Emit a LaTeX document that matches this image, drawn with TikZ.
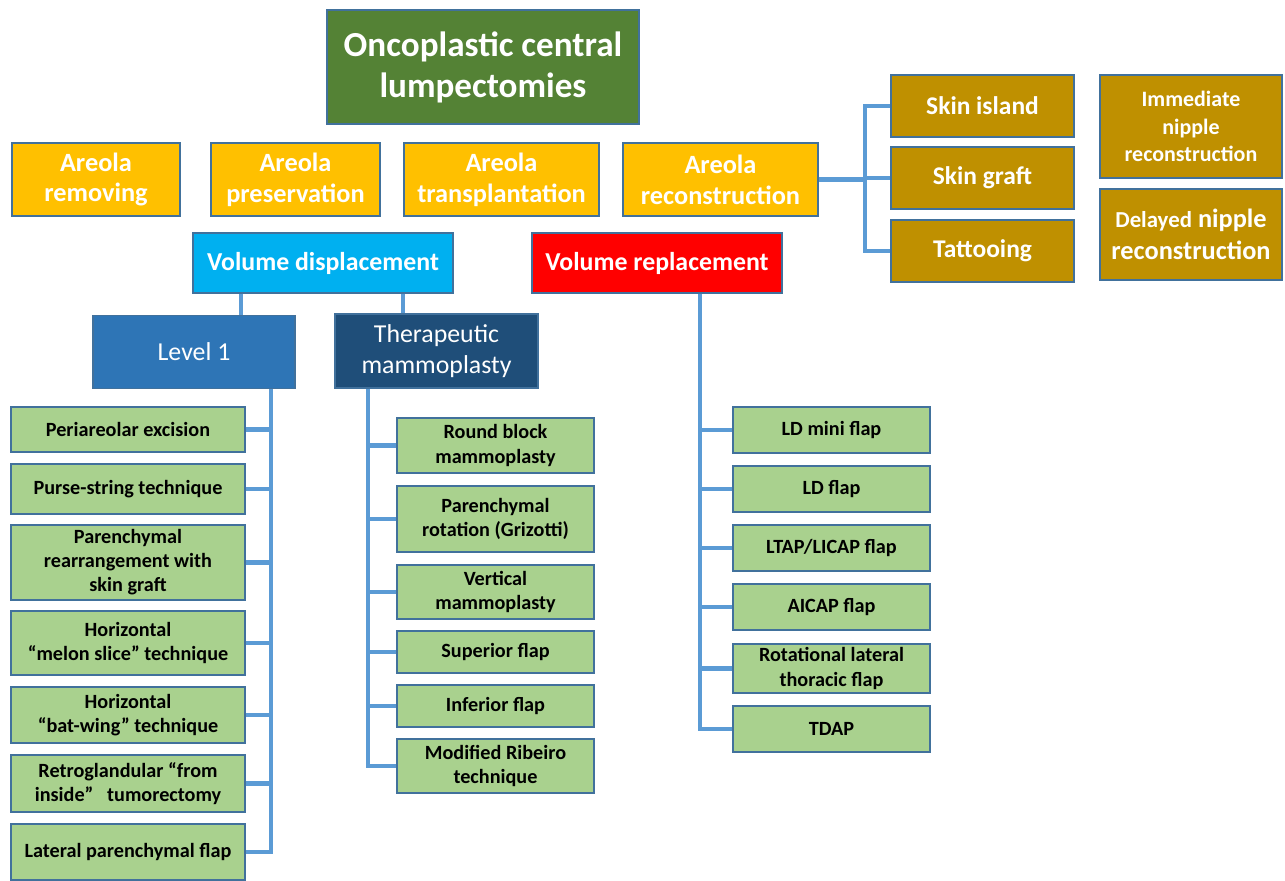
\documentclass[tikz,border=0pt]{standalone}
\usepackage{fontspec}
\setmainfont{Carlito}
\definecolor{titg}{RGB}{84,130,53}
\definecolor{areo}{RGB}{255,192,0}
\definecolor{vdis}{RGB}{0,176,240}
\definecolor{vrep}{RGB}{255,0,0}
\definecolor{lvl}{RGB}{46,117,182}
\definecolor{thm}{RGB}{31,78,121}
\definecolor{leaf}{RGB}{169,209,142}
\definecolor{brwn}{RGB}{191,144,0}
\definecolor{bord}{RGB}{65,113,156}
\definecolor{conc}{RGB}{91,155,213}

\begin{document}
\begin{tikzpicture}[x=0.02cm, y=-0.02cm,
  caja/.style={draw=bord, line width=0.6pt, inner sep=1pt, align=center, text=white},
  sz/.style 2 args={minimum width=#1*0.02cm, minimum height=#2*0.02cm},
  hoja/.style={caja, fill=leaf, text=black, font=\bfseries\fontsize{11.5}{13.7}\selectfont},
  areola/.style={caja, fill=areo, sz={168}{73}, font=\bfseries\fontsize{15}{17.6}\selectfont},
  piel/.style={caja, fill=brwn, sz={183}{62}, font=\bfseries\fontsize{14.5}{17}\selectfont},
  pezon/.style={caja, fill=brwn, sz={182}{91}, font=\bfseries\fontsize{12.5}{15.5}\selectfont},
  volumen/.style={caja, sz={250}{60}, font=\bfseries\fontsize{14.7}{16}\selectfont},
  nivel/.style={caja, sz={202}{73}, font=\fontsize{14.7}{17.5}\selectfont},
  conn/.style={draw=conc, line width=2.3pt}]
  \useasboundingbox (0,0) rectangle (1285,880);
  \def\tA{271} \def\tB{368} \def\tC{700} \def\tD{865}
  % raiz
  \node[caja, fill=titg, sz={312}{114}, font=\bfseries\fontsize{20}{23.3}\selectfont] (root) at (483,67)
    {Oncoplastic central\\lumpectomies};
  % fila de areolas
  \node[areola] (arem) at (96,179.5) {Areola\\removing};
  \node[areola, sz={169}{73}] (apre) at (295.5,179.5) {Areola\\preservation};
  \node[areola, sz={195}{73}] (atra) at (501.5,179.5) {Areola\\transplantation};
  \node[areola, sz={195}{73}] (arec) at (720.5,179.5) {Areola\\reconstruction};
  % reconstruccion de areola y pezon
  \node[piel] (sisl) at (982.5,106) {Skin island};
  \node[piel] (sgra) at (982.5,178) {Skin graft};
  \node[piel] (tatt) at (982.5,251) {Tattooing};
  \node[pezon, sz={182}{103}] (imm) at (1191,126.5) {Immediate\\nipple\\reconstruction};
  \node[pezon, font=\bfseries\fontsize{15}{18}\selectfont] (del) at (1191,234.5)
    {{\fontsize{13}{18}\selectfont Delayed} nipple\\reconstruction};
  % volumen
  \node[volumen, fill=vdis, sz={260}{60}] (vd) at (323,263) {Volume displacement};
  \node[volumen, fill=vrep] (vr) at (657,263) {Volume replacement};
  \node[nivel, fill=lvl] (lvone) at (194,352) {Level 1};
  \node[nivel, fill=thm, sz={203}{74}] (thera) at (436.5,351) {Therapeutic\\mammoplasty};
  % hojas de Level 1
  \node[hoja, sz={234}{45}] (peri) at (128,429.5) {Periareolar excision};
  \node[hoja, sz={234}{50}] (purse) at (128,489) {Purse-string technique};
  \node[hoja, sz={234}{75}] (rearr) at (128,562.5) {Parenchymal\\rearrangement with\\skin graft};
  \node[hoja, sz={234}{64}] (melon) at (128,643) {Horizontal\\“melon slice” technique};
  \node[hoja, sz={234}{56}] (bat) at (128,715) {Horizontal\\“bat-wing” technique};
  \node[hoja, sz={234}{57}] (retro) at (128,783.5) {Retroglandular “from\\inside”~~ tumorectomy};
  \node[hoja, sz={234}{56}] (latf) at (128,852) {Lateral parenchymal flap};
  % hojas de mamoplastia
  \node[hoja, sz={197}{55}] (round) at (495.5,445.5) {Round block\\mammoplasty};
  \node[hoja, sz={197}{66}] (rot) at (495.5,519) {Parenchymal\\rotation (Grizotti)};
  \node[hoja, sz={197}{54}] (vert) at (495.5,592) {Vertical\\mammoplasty};
  \node[hoja, sz={197}{42}] (sup) at (495.5,652) {Superior flap};
  \node[hoja, sz={197}{42}] (inf) at (495.5,706) {Inferior flap};
  \node[hoja, sz={197}{54}] (ribe) at (495.5,766) {Modified Ribeiro\\technique};
  % hojas de reemplazo
  \node[hoja, sz={197}{46}] (ldm) at (831.5,430) {LD mini flap};
  \node[hoja, sz={197}{46}] (ld) at (831.5,489) {LD flap};
  \node[hoja, sz={197}{46}] (ltap) at (831.5,548) {LTAP/LICAP flap};
  \node[hoja, sz={197}{46}] (aicap) at (831.5,607) {AICAP flap};
  \node[hoja, sz={197}{49}] (rotl) at (831.5,668.5) {Rotational lateral\\thoracic flap};
  \node[hoja, sz={197}{46}] (tdap) at (831.5,729) {TDAP};
  % conectores
  \coordinate (dA) at (241,300);
  \coordinate (dB) at (403,300);
  \draw[conn] (vd.south -| dA) -- (lvone.north -| dA);
  \draw[conn] (vd.south -| dB) -- (thera.north -| dB);
  \draw[conn] (lvone.south -| \tA,0) -- (latf.east -| \tA,0) -- (latf.east);
  \foreach \n in {peri,purse,rearr,melon,bat,retro}
    \draw[conn] (\n.east) -- (\n.east -| \tA,0);
  \draw[conn] (thera.south -| \tB,0) -- (ribe.west -| \tB,0) -- (ribe.west);
  \foreach \n in {round,rot,vert,sup,inf}
    \draw[conn] (\n.west) -- (\n.west -| \tB,0);
  \draw[conn] (vr.south -| \tC,0) -- (tdap.west -| \tC,0) -- (tdap.west);
  \foreach \n in {ldm,ld,ltap,aicap,rotl}
    \draw[conn] (\n.west) -- (\n.west -| \tC,0);
  \draw[conn] (sisl.west) -- (sisl.west -| \tD,0) -- (tatt.west -| \tD,0) -- (tatt.west);
  \draw[conn] (arec.east) -- (arec.east -| \tD,0);
  \draw[conn] (sgra.west) -- (sgra.west -| \tD,0);
\end{tikzpicture}
\end{document}
